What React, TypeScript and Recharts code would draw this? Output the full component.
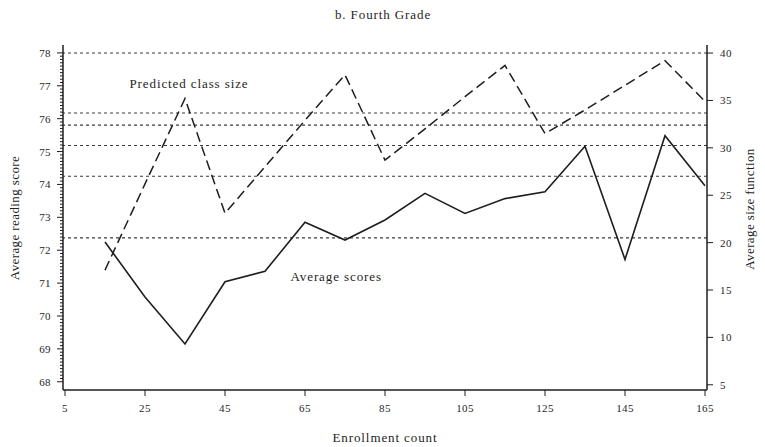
import { LineChart, Line, XAxis, YAxis, ReferenceLine, ReferenceDot } from "recharts"

const enrollment = [15, 25, 35, 45, 55, 65, 75, 85, 95, 105, 115, 125, 135, 145, 155, 165]
const avgScores = [72.25, 70.58, 69.15, 71.04, 71.36, 72.85, 72.31, 72.92, 73.73, 73.12, 73.57, 73.78, 75.16, 71.72, 75.48, 73.96]
const predictedSize = [17.1, 26.2, 35.2, 23.1, 28.0, 32.9, 37.7, 28.7, 32.0, 35.4, 38.7, 31.5, 34.0, 36.6, 39.2, 34.9]
const xTicks = [5, 25, 45, 65, 85, 105, 125, 145, 165]
const scoreTicks = [68, 69, 70, 71, 72, 73, 74, 75, 76, 77, 78]
const sizeTicks = [5, 10, 15, 20, 25, 30, 35, 40]
const cutoffSizes = [40, 33.67, 32.4, 30.25, 27, 20.5]

const data = enrollment.map((e, i) => ({ enrollment: e, score: avgScores[i], size: predictedSize[i] }))

// dense ruler of minor ticks on the score axis, every 0.1
const scoreMinor = Array.from({ length: 101 }, (_, i) => Math.round((scoreTicks[0] + i * 0.1) * 10) / 10)

const font = "'Liberation Serif', 'DejaVu Serif', serif"
const ink = "#1e1e1e"

function ScoreTick(props: any) {
  const { x, y, payload } = props
  const major = Number.isInteger(payload.value)
  return (
    <g>
      <line x1={x - (major ? 6 : 3)} x2={x} y1={y} y2={y} stroke={ink} strokeWidth={1} />
      {major && (
        <text x={x - 12} y={y} dy={4} textAnchor="end" fontSize={11} fontFamily={font} fill={ink} letterSpacing={0.4}>
          {payload.value}
        </text>
      )}
    </g>
  )
}

const labelStyle = { fontSize: 13, fontFamily: font, fill: ink, letterSpacing: 0.9 }

export default function App() {
  return (
    <div style={{ position: "absolute", left: 0, top: 0, width: 765, height: 447, background: "#fff" }}>
      <LineChart width={765} height={447} data={data} margin={{ top: 45, right: 0, bottom: 0, left: 0 }}>
        <XAxis
          xAxisId="bottom"
          dataKey="enrollment"
          type="number"
          domain={[4.5, 165.5]}
          ticks={xTicks}
          height={57}
          axisLine={{ stroke: ink, strokeWidth: 1.5 }}
          tickLine={{ stroke: ink }}
          tickSize={6}
          tickMargin={8}
          tick={{ fontSize: 11, fontFamily: font, fill: ink, letterSpacing: 0.4 }}
        />
        <XAxis
          xAxisId="top"
          orientation="top"
          dataKey="enrollment"
          type="number"
          domain={[4.5, 165.5]}
          height={0}
          tick={false}
          tickLine={false}
          axisLine={{ stroke: ink, strokeWidth: 1.5 }}
        />
        <YAxis
          yAxisId="score"
          orientation="left"
          type="number"
          width={63}
          domain={[67.75, 78.24]}
          ticks={scoreMinor}
          interval={0}
          tickSize={0}
          tickMargin={0}
          tickLine={false}
          axisLine={{ stroke: ink, strokeWidth: 1.5 }}
          tick={<ScoreTick />}
        />
        <YAxis
          yAxisId="size"
          orientation="right"
          type="number"
          width={58}
          domain={[4.45, 40.85]}
          ticks={sizeTicks}
          interval={0}
          tickSize={6}
          tickMargin={7}
          tickLine={{ stroke: ink }}
          axisLine={{ stroke: ink, strokeWidth: 1.5 }}
          tick={{ fontSize: 11, fontFamily: font, fill: ink, textAnchor: "start", letterSpacing: 0.4 }}
        />
        {cutoffSizes.map((s) => (
          <ReferenceLine
            key={s}
            xAxisId="bottom"
            yAxisId="size"
            y={s}
            stroke="#3a3a3a"
            strokeWidth={1.1}
            strokeDasharray="3 3"
          />
        ))}
        <Line
          xAxisId="bottom"
          yAxisId="size"
          dataKey="size"
          stroke={ink}
          strokeWidth={1.5}
          strokeDasharray="10 5"
          dot={false}
          isAnimationActive={false}
        />
        <Line
          xAxisId="bottom"
          yAxisId="score"
          dataKey="score"
          stroke={ink}
          strokeWidth={1.6}
          dot={false}
          isAnimationActive={false}
        />
        <ReferenceDot
          xAxisId="bottom"
          yAxisId="score"
          x={36}
          y={77.08}
          r={0}
          fill="none"
          stroke="none"
          label={{ value: "Predicted class size", position: "center", ...labelStyle }}
        />
        <ReferenceDot
          xAxisId="bottom"
          yAxisId="score"
          x={72.8}
          y={71.19}
          r={0}
          fill="none"
          stroke="none"
          label={{ value: "Average scores", position: "center", ...labelStyle }}
        />
      </LineChart>
      <svg width={765} height={447} style={{ position: "absolute", left: 0, top: 0, pointerEvents: "none" }}>
        <text x={383} y={19} textAnchor="middle" {...labelStyle}>
          b. Fourth Grade
        </text>
        <text x={385} y={442} textAnchor="middle" {...labelStyle}>
          Enrollment count
        </text>
        <text x={19} y={218} textAnchor="middle" {...labelStyle} letterSpacing={0.4} transform="rotate(-90 19 218)">
          Average reading score
        </text>
        <text x={754} y={209} textAnchor="middle" {...labelStyle} letterSpacing={0.4} transform="rotate(-90 754 209)">
          Average size function
        </text>
      </svg>
    </div>
  )
}
